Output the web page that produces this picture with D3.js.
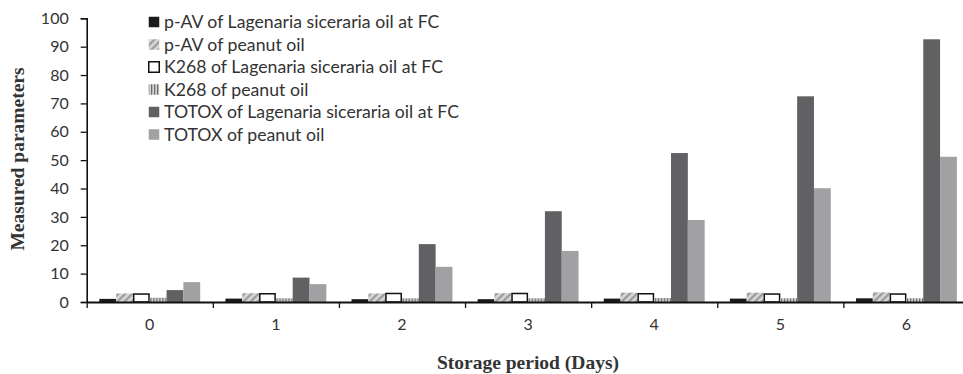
<!DOCTYPE html>
<html>
<head>
<meta charset="utf-8">
<script src="https://cdn.jsdelivr.net/npm/d3@7"></script>
<style>
  body { margin: 0; background: #fff; }
  svg { display: block; }
  text { fill: #333; }
</style>
</head>
<body>
<svg id="chart" width="963" height="374"></svg>
<script>
// storage days on the x axis
const days = ["0", "1", "2", "3", "4", "5", "6"];

const seriesNames = [
  "p-AV of Lagenaria siceraria oil at FC",
  "p-AV of peanut oil",
  "K268 of Lagenaria siceraria oil at FC",
  "K268 of peanut oil",
  "TOTOX of Lagenaria siceraria oil at FC",
  "TOTOX of peanut oil"
];

// values
const pavLagenaria = [1.1, 1.2, 1.0, 1.0, 1.2, 1.2, 1.3];
const pavPeanut = [3.0, 3.1, 3.0, 3.1, 3.3, 3.3, 3.4];
const k268Lagenaria = [2.8, 2.9, 3.0, 3.0, 2.9, 2.8, 2.8];
const k268Peanut = [1.5, 1.3, 1.3, 1.3, 1.4, 1.3, 1.3];
const totoxLagenaria = [4.2, 8.6, 20.4, 32.0, 52.5, 72.5, 92.6];
const totoxPeanut = [7.0, 6.3, 12.4, 18.0, 28.9, 40.1, 51.2];

const yTicks = [0, 10, 20, 30, 40, 50, 60, 70, 80, 90, 100];

const allSeries = [pavLagenaria, pavPeanut, k268Lagenaria, k268Peanut, totoxLagenaria, totoxPeanut];
const fills = ["#1b1b1b", "url(#hatch)", "#ffffff", "url(#vstripe)", "#616163", "#a1a1a4"];
const strokes = ["none", "none", "#111", "none", "none", "none"];

const svg = d3.select("#chart");
const plotLeft = 86.7, plotRight = 969.5, plotTop = 18.3, plotBottom = 302;

// patterns
const defs = svg.append("defs");
const hatch = defs.append("pattern")
  .attr("id", "hatch")
  .attr("width", 5).attr("height", 5)
  .attr("patternUnits", "userSpaceOnUse")
  .attr("patternTransform", "rotate(-45)");
hatch.append("rect").attr("width", 5).attr("height", 5).attr("fill", "#d6d6d6");
hatch.append("rect").attr("width", 5).attr("height", 2.2).attr("fill", "#9a9a9a");

const vstripe = defs.append("pattern")
  .attr("id", "vstripe")
  .attr("width", 3).attr("height", 3)
  .attr("patternUnits", "userSpaceOnUse");
vstripe.append("rect").attr("width", 3).attr("height", 3).attr("fill", "#d8d8d8");
vstripe.append("rect").attr("width", 1.3).attr("height", 3).attr("fill", "#6a6a6a");

const x = d3.scaleBand().domain(days).range([plotLeft, plotRight]).paddingInner(0.2).paddingOuter(0.1);
const xInner = d3.scaleBand().domain(d3.range(allSeries.length)).range([0, x.bandwidth()]);
const y = d3.scaleLinear().domain([0, 100]).range([plotBottom, plotTop]);

// bars
const groups = svg.append("g")
  .selectAll("g")
  .data(days)
  .join("g")
  .attr("transform", d => `translate(${x(d)},0)`);

groups.selectAll("rect")
  .data((d, i) => allSeries.map((s, k) => ({ k, v: s[i] })))
  .join("rect")
  .attr("x", d => xInner(d.k) + (strokes[d.k] !== "none" ? 0.75 : 0))
  .attr("y", d => y(d.v))
  .attr("width", d => xInner.bandwidth() - (strokes[d.k] !== "none" ? 1.5 : 0))
  .attr("height", d => y(0) - y(d.v))
  .attr("fill", d => fills[d.k])
  .attr("stroke", d => strokes[d.k])
  .attr("stroke-width", 1.5);

// y axis
const yAxis = svg.append("g")
  .attr("transform", `translate(${plotLeft},0)`)
  .call(d3.axisLeft(y).tickValues(yTicks).tickSize(6).tickPadding(12));
yAxis.selectAll("text").style("font-family", "Lato, sans-serif").style("font-size", "16px").attr("fill", "#333");
yAxis.select(".domain").attr("stroke", "#111").attr("stroke-width", 1.6);
yAxis.selectAll(".tick line").attr("stroke", "#111").attr("stroke-width", 1.3);

// x axis: tick marks on category boundaries
const xEdge = d3.scaleLinear().domain([0, days.length]).range([plotLeft, plotRight]);
const xTicks = svg.append("g")
  .attr("transform", `translate(0,${plotBottom})`)
  .call(d3.axisBottom(xEdge).tickValues(d3.range(days.length + 1)).tickFormat("").tickSize(6).tickSizeOuter(0));
xTicks.select(".domain").attr("stroke", "#111").attr("stroke-width", 2);
xTicks.selectAll(".tick line").attr("stroke", "#111").attr("stroke-width", 1.3);

const xLabels = svg.append("g")
  .attr("transform", `translate(0,${plotBottom})`)
  .call(d3.axisBottom(x).tickSize(0).tickPadding(17));
xLabels.select(".domain").remove();
xLabels.selectAll("text").style("font-family", "Lato, sans-serif").style("font-size", "16px").attr("fill", "#333");

// axis titles
svg.append("text")
  .attr("transform", `translate(24,${(65 + 253) / 2}) rotate(-90)`)
  .attr("text-anchor", "middle")
  .style("font-family", "'Liberation Serif', serif")
  .style("font-weight", "bold")
  .style("font-size", "19.5px")
  .attr("fill", "#222")
  .text("Measured parameters");

svg.append("text")
  .attr("x", 528)
  .attr("y", 369)
  .attr("text-anchor", "middle")
  .style("font-family", "'Liberation Serif', serif")
  .style("font-weight", "bold")
  .style("font-size", "19.5px")
  .attr("fill", "#222")
  .text("Storage period (Days)");

// legend
const legend = svg.append("g").attr("transform", "translate(148,22)");
const item = legend.selectAll("g")
  .data(seriesNames)
  .join("g")
  .attr("transform", (d, i) => `translate(0,${i * 22.5})`);
item.append("rect")
  .attr("x", 0.75).attr("y", -5.25)
  .attr("width", 10.5).attr("height", 10.5)
  .attr("fill", (d, i) => fills[i])
  .attr("stroke", (d, i) => strokes[i])
  .attr("stroke-width", 1.5);
item.append("text")
  .attr("x", 16)
  .attr("dy", "0.35em")
  .style("font-family", "Lato, sans-serif")
  .style("font-size", "17.7px")
  .attr("fill", "#333")
  .text(d => d);
</script>
</body>
</html>
